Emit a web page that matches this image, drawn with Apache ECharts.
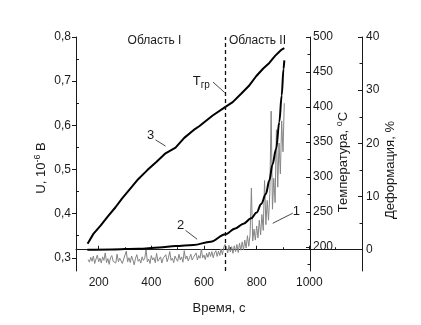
<!DOCTYPE html>
<html><head><meta charset="utf-8">
<script src="https://cdn.jsdelivr.net/npm/echarts@6/dist/echarts.min.js"></script>
<style>html,body{margin:0;padding:0;background:#fff;}#c{width:421px;height:325px;}</style>
</head><body><div id="c"></div>
<script>
// ---- data ----
const uTime = [
160,165,170,175,180,185,190,195,200,205,210,215,220,225,230,235,240,245,250,255,
260,265,270,275,280,285,290,295,300,305,310,315,320,325,330,335,340,345,350,355,
360,365,370,375,380,385,390,395,400,405,410,415,420,425,430,435,440,445,450,455,
460,465,470,475,480,485,490,495,500,505,510,515,520,525,530,535,540,545,550,555,
560,565,570,575,580,585,590,595,600,605,610,615,620,625,630,635,640,645,650,655,
660,665,670,675,680,685,690,695,700,705,710,715,720,725,730,735,740,745,750,755,
760,765,770,775,780,785,790,795,800,805,810,815,820,825,830,835,840,845,850,855,
860,865,870,875,880,885,890,895,900,905];
const uValue = [
.296,.290,.301,.292,.304,.287,.297,.306,.291,.299,.288,.302,.294,.311,.289,.298,.285,.300,.305,.292,
.296,.288,.308,.291,.299,.302,.287,.297,.294,.315,.291,.300,.289,.304,.295,.284,.299,.307,.292,.297,
.288,.302,.294,.299,.318,.291,.297,.287,.305,.295,.300,.289,.310,.292,.297,.302,.288,.299,.295,.307,
.291,.300,.314,.294,.299,.289,.304,.297,.292,.308,.295,.302,.290,.316,.297,.304,.293,.300,.308,.295,
.301,.297,.311,.295,.305,.299,.320,.300,.306,.296,.310,.301,.313,.303,.314,.300,.311,.316,.303,.315,
.305,.320,.307,.324,.330,.324,.311,.328,.313,.325,.310,.327,.314,.330,.312,.333,.317,.336,.318,.340,
.322,.350,.326,.352,.458,.338,.365,.340,.372,.345,.385,.352,.398,.362,.475,.375,.430,.385,.445,.632,
.410,.480,.425,.590,.460,.560,.490,.610,.540,.650];
const tempTime  = [158,180,208,235,264,290,321,350,385,420,454,492,525,560,583,633,680,709,741,770,798,825,848,870,886,895,905];
const tempValue = [205,219,231,244,257,270,284,297,310,322,334,342,356,367,373,388,400,407,419,430,444,455,463,473,479,482,484];
const defTime  = [157,250,350,430,492,560,625,681,719,750,779,800,817,835,848,860,874,886,895,902,905];
const defValue = [0,0.05,0.2,0.4,0.7,0.9,1.5,2.9,4.0,4.9,5.9,7.0,8.6,10.5,13,16,19,24,29,34,35.6];
const boundaryTime = 681;

const xLabels = [200,400,600,800,1000];
const xMinor  = [300,500,700,900,1100];
const uLabels = [0.3,0.4,0.5,0.6,0.7,0.8];
const uMinor  = [0.35,0.45,0.55,0.65,0.75];
const tLabels = [200,250,300,350,400,450,500];
const tMinor  = [175,225,275,325,375,425,475];
const dLabels = [0,10,20,30,40];
const dMinor  = [5,15,25,35];

// ---- styling ----
const FONT = '"Liberation Sans", Arial, sans-serif';
const INK = '#1a1a1a';
const chart = echarts.init(document.getElementById('c'), null, {renderer:'canvas'});

function zip(a,b){ return a.map((v,i)=>[v,b[i]]); }

function axisBase(extra){
  return Object.assign({
    type:'value', splitLine:{show:false}, minorTick:{show:false},
    axisLine:{show:false}, axisLabel:{show:false}, axisTick:{show:false}
  }, extra);
}
const tickLabel = {color:INK, fontFamily:FONT, fontSize:12};
const plain = v => String(v);

const option = {
  animation:false,
  backgroundColor:'#fff',
  grid:{left:76,right:59,top:37,bottom:54,containLabel:false,outerBoundsMode:'none'},
  xAxis:[
    axisBase({min:114,max:1200,position:'bottom',
      axisLine:{show:true,lineStyle:{color:INK,width:1}},
      axisTick:{show:true,inside:true,length:4,lineStyle:{color:INK},customValues:xLabels},
      axisLabel:Object.assign({show:true,margin:6,customValues:xLabels,formatter:plain},tickLabel)}),
    axisBase({min:114,max:1200,position:'bottom',
      axisTick:{show:true,inside:true,length:2.5,lineStyle:{color:INK},customValues:xMinor}})
  ],
  yAxis:[
    axisBase({min:0.27,max:0.8,position:'left',
      axisLine:{show:true,lineStyle:{color:INK,width:1}},
      axisTick:{show:true,inside:false,length:4,lineStyle:{color:INK},customValues:uLabels},
      axisLabel:Object.assign({show:true,margin:5,customValues:uLabels,
        formatter:v=>v.toFixed(1).replace('.',',')},tickLabel)}),
    axisBase({min:0.27,max:0.8,position:'left',
      axisTick:{show:true,inside:true,length:3,lineStyle:{color:INK},customValues:uMinor}}),
    axisBase({min:166,max:500,position:'right',offset:-52,
      axisLine:{show:true,lineStyle:{color:INK,width:1}},
      axisTick:{show:true,inside:true,length:4,lineStyle:{color:INK},customValues:tLabels},
      axisLabel:Object.assign({show:true,margin:3,customValues:tLabels,formatter:plain},tickLabel)}),
    axisBase({min:166,max:500,position:'right',offset:-52,
      axisTick:{show:true,inside:true,length:2.5,lineStyle:{color:INK},customValues:tMinor}}),
    axisBase({min:-4,max:40,position:'right',
      axisLine:{show:true,lineStyle:{color:INK,width:1}},
      axisTick:{show:true,inside:true,length:4,lineStyle:{color:INK},customValues:dLabels},
      axisLabel:Object.assign({show:true,margin:4,customValues:dLabels,formatter:plain},tickLabel)}),
    axisBase({min:-4,max:40,position:'right',
      axisTick:{show:true,inside:true,length:2.5,lineStyle:{color:INK},customValues:dMinor}})
  ],
  series:[
    {name:'U', type:'line', xAxisIndex:0, yAxisIndex:0, data:zip(uTime,uValue),
     showSymbol:false, lineStyle:{color:'#858585',width:1}, z:2},
    {name:'Деформация', type:'line', xAxisIndex:0, yAxisIndex:4, data:zip(defTime,defValue),
     showSymbol:false, smooth:0.35, smoothMonotone:'x', lineStyle:{color:'#000',width:2}, z:3},
    {name:'Температура', type:'line', xAxisIndex:0, yAxisIndex:2, data:zip(tempTime,tempValue),
     showSymbol:false, lineStyle:{color:'#000',width:2}, z:3,
     markLine:{silent:true, symbol:['none','none'], label:{show:false},
       lineStyle:{color:'#111',type:[4,3],width:1.3},
       data:[{xAxis:boundaryTime}]}}
  ]
};
chart.setOption(option);

// ---- annotations, placed in data coordinates (time, U) ----
const textNotes = [
  {text:'Область I',  at:[412,0.791], size:12},
  {text:'Область II', at:[803,0.791], size:12},
  {text:'3', at:[397,0.578], size:13},
  {text:'2', at:[511,0.374], size:13},
  {text:'1', at:[951,0.404], size:13}
];
const arrowNotes = [
  {from:[634,0.698], to:[679,0.674]},
  {from:[416,0.567], to:[454,0.553]},
  {from:[530,0.362], to:[574,0.342]},
  {from:[937,0.401], to:[861,0.378]}
];
const tgrAt = [557,0.700];

function px(p){ return chart.convertToPixel({xAxisIndex:0,yAxisIndex:0}, p); }
const g = [];
textNotes.forEach(n=>{
  const p = px(n.at);
  g.push({type:'text', x:p[0], y:p[1], silent:true,
    style:{text:n.text, fill:INK, fontFamily:FONT, fontSize:n.size, align:'center', verticalAlign:'middle'}});
});
arrowNotes.forEach(a=>{
  const p1 = px(a.from), p2 = px(a.to);
  g.push({type:'line', silent:true, shape:{x1:p1[0],y1:p1[1],x2:p2[0],y2:p2[1]},
    style:{stroke:INK,lineWidth:0.8}});
});
const pt = px(tgrAt);
g.push({type:'text', x:pt[0], y:pt[1], silent:true,
  style:{text:'T', fill:INK, fontFamily:FONT, fontSize:13, align:'left', verticalAlign:'middle'}});
g.push({type:'text', x:pt[0]+8, y:pt[1]+4, silent:true,
  style:{text:'гр', fill:INK, fontFamily:FONT, fontSize:10, align:'left', verticalAlign:'middle'}});

// axis titles
g.push({type:'text', x:41, y:168, rotation:Math.PI/2, silent:true,
  style:{text:'{a|U, 10}{b|-6}{a| B}', align:'center', verticalAlign:'middle',
    rich:{a:{fontSize:13,fontFamily:FONT,fill:INK,lineHeight:16},
          b:{fontSize:9,fontFamily:FONT,fill:INK,lineHeight:16,verticalAlign:'top'}}}});
g.push({type:'text', x:343, y:162, rotation:Math.PI/2, silent:true,
  style:{text:'{a|Температура, }{b|o}{a|C}', align:'center', verticalAlign:'middle',
    rich:{a:{fontSize:13,fontFamily:FONT,fill:INK,lineHeight:16},
          b:{fontSize:9,fontFamily:FONT,fill:INK,lineHeight:16,verticalAlign:'top'}}}});
g.push({type:'text', x:390, y:170, rotation:Math.PI/2, silent:true,
  style:{text:'Деформация, %', fill:INK, fontFamily:FONT, fontSize:13, align:'center', verticalAlign:'middle'}});
g.push({type:'text', x:219, y:308, silent:true,
  style:{text:'Время, с', fill:INK, fontFamily:FONT, fontSize:13, align:'center', verticalAlign:'middle'}});

chart.setOption({graphic:g});
</script>
</body></html>
